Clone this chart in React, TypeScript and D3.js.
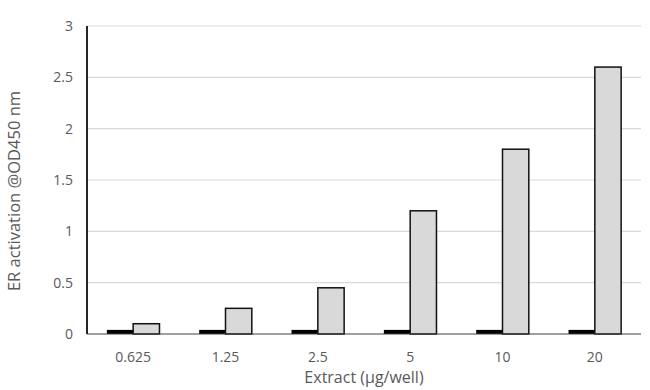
import { useMemo } from "react";
import * as d3 from "d3";

const WIDTH = 650;
const HEIGHT = 390;
const MARGIN = { top: 26, right: 9, bottom: 56, left: 87 };

const DOSES = ["0.625", "1.25", "2.5", "5", "10", "20"];
const CONTROL = [0.04, 0.04, 0.04, 0.04, 0.04, 0.04];
const EXTRACT = [0.1, 0.25, 0.45, 1.2, 1.8, 2.6];
const Y_TICKS = [0, 0.5, 1, 1.5, 2, 2.5, 3];

const FONT = "'Open Sans', 'Liberation Sans', sans-serif";
const TEXT = "#595959";

export default function App() {
  const x = useMemo(
    () =>
      d3
        .scaleBand()
        .domain(DOSES)
        .range([MARGIN.left, WIDTH - MARGIN.right])
        .paddingInner(0)
        .paddingOuter(0),
    []
  );
  const y = useMemo(
    () => d3.scaleLinear().domain([0, 3]).range([HEIGHT - MARGIN.bottom, MARGIN.top]),
    []
  );

  const bw = x.bandwidth();
  const barW = bw * 0.285;
  const y0 = y(0);

  return (
    <svg
      width={WIDTH}
      height={HEIGHT}
      style={{ position: "absolute", left: 0, top: 0, background: "#fff" }}
      fontFamily={FONT}
    >
      {Y_TICKS.map((t) => (
        <g key={t}>
          {t > 0 && (
            <line
              x1={MARGIN.left}
              x2={WIDTH - MARGIN.right}
              y1={y(t)}
              y2={y(t)}
              stroke="#d9d9d9"
              strokeWidth={1.2}
            />
          )}
          <text x={73} y={y(t)} dy="0.35em" textAnchor="end" fontSize={14} fill={TEXT}>
            {t}
          </text>
        </g>
      ))}

      {DOSES.map((d, i) => {
        const cx = (x(d) ?? 0) + bw / 2;
        return (
          <g key={d}>
            <rect
              x={cx - barW}
              y={y(CONTROL[i])}
              width={barW}
              height={y0 - y(CONTROL[i])}
              fill="#000"
            />
            <rect
              x={cx}
              y={y(EXTRACT[i])}
              width={barW}
              height={y0 - y(EXTRACT[i])}
              fill="#d9d9d9"
              stroke="#111"
              strokeWidth={1.5}
            />
            <text x={cx} y={357} dy="0.35em" textAnchor="middle" fontSize={14} fill={TEXT}>
              {d}
            </text>
          </g>
        );
      })}

      <line x1={MARGIN.left} x2={WIDTH - MARGIN.right} y1={y0} y2={y0} stroke="#404040" strokeWidth={1.2} />
      <line x1={MARGIN.left} x2={MARGIN.left} y1={MARGIN.top} y2={y0} stroke="#262626" strokeWidth={2} />

      <text x={364} y={377} dy="0.35em" textAnchor="middle" fontSize={16} fill={TEXT}>
        Extract (µg/well)
      </text>
      <text
        transform={`translate(14, 191) rotate(-90)`}
        dy="0.35em"
        textAnchor="middle"
        fontSize={16.5}
        fill={TEXT}
      >
        ER activation @OD450 nm
      </text>
    </svg>
  );
}
